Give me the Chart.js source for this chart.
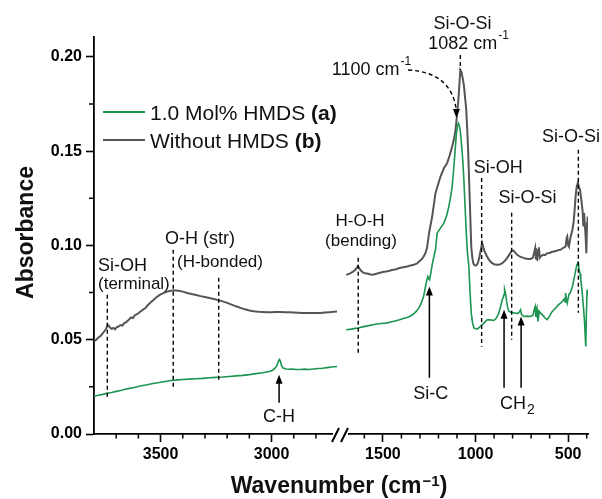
<!DOCTYPE html>
<html><head><meta charset="utf-8">
<script src="https://cdn.jsdelivr.net/npm/chart.js@4.4.0/dist/chart.umd.min.js"></script>
<style>html,body{margin:0;padding:0;background:#fff}</style>
</head><body>
<canvas id="c" width="602" height="499"></canvas>
<script>
// ---------- data ----------
const seriesNames = ['1.0 Mol% HMDS', 'Without HMDS'];
const seriesTags = ['(a)', '(b)'];
const xLTicks = [3500, 3000];
const xRTicks = [1500, 1000, 500];
const yTicks = [0, 0.05, 0.10, 0.15, 0.20];
const xLMinor = [3700, 3600, 3400, 3300, 3200, 3100, 2900, 2800];
const xRMinor = [1600, 1400, 1300, 1200, 1100, 900, 800, 700, 600, 400];
const yMinor = [0.025, 0.075, 0.125, 0.175];

// (a) 1.0 Mol% HMDS, high-wavenumber part
const aLeftWn = [3800,3780,3760,3740,3720,3700,3680,3660,3640,3620,3600,3580,3560,3540,3520,3500,3480,3460,3440,3420,3400,3370,3340,3310,3280,3250,3220,3190,3160,3130,3100,3070,3040,3010,2995,2985,2975,2968,2964,2960,2955,2948,2935,2920,2905,2890,2870,2850,2830,2810,2790,2770,2750,2730,2705];
const aLeftAbs = [0.0200,0.0205,0.0210,0.0216,0.0220,0.0226,0.0231,0.0237,0.0242,0.0247,0.0252,0.0257,0.0261,0.0266,0.0270,0.0274,0.0278,0.0282,0.0285,0.0287,0.0289,0.0291,0.0293,0.0295,0.0298,0.0300,0.0302,0.0305,0.0308,0.0311,0.0315,0.0320,0.0325,0.0331,0.0338,0.0348,0.0365,0.0390,0.0395,0.0385,0.0362,0.0350,0.0345,0.0343,0.0345,0.0342,0.0342,0.0344,0.0342,0.0345,0.0347,0.0349,0.0352,0.0355,0.0358];
// (a) low-wavenumber part
const aRightWn = [1698,1670,1650,1635,1610,1590,1570,1554,1530,1510,1482,1460,1440,1410,1390,1370,1356,1340,1320,1305,1293,1280,1270,1262,1257,1252,1248,1240,1234,1225,1216,1207,1190,1171,1155,1144,1135,1126,1120,1114,1108,1103,1097,1092,1086,1081,1075,1069,1063,1058,1052,1045,1036,1030,1023,1016,1009,1000,991,980,970,964,950,937,920,901,888,874,865,856,850,846,843,838,832,826,820,805,790,784,770,762,757,752,739,720,703,690,683,678,674,668,663,656,649,635,625,613,600,590,577,565,553,541,530,522,516,514,510,505,496,488,477,468,459,452,447,442,436,432,425,418,412,408,405,402,398,395];
const aRightAbs = [0.0553,0.0556,0.0560,0.0562,0.0568,0.0572,0.0576,0.0579,0.0583,0.0586,0.0588,0.0594,0.0598,0.0606,0.0612,0.0618,0.0623,0.0632,0.0650,0.0670,0.0694,0.0730,0.0782,0.0820,0.0835,0.0822,0.0818,0.0860,0.0897,0.0940,0.0977,0.1065,0.1090,0.1118,0.1160,0.1206,0.1255,0.1312,0.1380,0.1454,0.1530,0.1595,0.1635,0.1648,0.1630,0.1595,0.1530,0.1454,0.1350,0.1242,0.1110,0.0977,0.0888,0.0760,0.0641,0.0590,0.0562,0.0558,0.0556,0.0565,0.0575,0.0579,0.0593,0.0606,0.0605,0.0602,0.0615,0.0641,0.0675,0.0712,0.0725,0.0740,0.0765,0.0745,0.0703,0.0670,0.0650,0.0645,0.0642,0.0641,0.0640,0.0650,0.0659,0.0635,0.0623,0.0625,0.0623,0.0630,0.0660,0.0676,0.0620,0.0660,0.0597,0.0650,0.0641,0.0628,0.0615,0.0606,0.0625,0.0645,0.0659,0.0670,0.0685,0.0694,0.0705,0.0715,0.0700,0.0747,0.0715,0.0694,0.0740,0.0750,0.0782,0.0825,0.0870,0.0900,0.0915,0.0880,0.0850,0.0818,0.0760,0.0676,0.0600,0.0520,0.0464,0.0620,0.0765,0.0740];

// (b) Without HMDS, high-wavenumber part
const bLeftWn = [3800,3790,3780,3770,3760,3750,3745,3740,3735,3728,3720,3712,3705,3698,3690,3680,3672,3664,3656,3648,3640,3632,3624,3616,3608,3600,3592,3584,3576,3568,3560,3552,3544,3536,3528,3520,3510,3500,3490,3480,3470,3460,3450,3440,3430,3420,3400,3380,3360,3340,3320,3300,3280,3260,3240,3220,3200,3180,3160,3140,3120,3100,3080,3060,3040,3020,3000,2980,2960,2940,2920,2900,2880,2860,2840,2820,2800,2780,2760,2740,2720,2705];
const bLeftAbs = [0.0490,0.0500,0.0512,0.0520,0.0535,0.0550,0.0560,0.0572,0.0576,0.0565,0.0558,0.0562,0.0555,0.0566,0.0570,0.0578,0.0575,0.0588,0.0592,0.0600,0.0610,0.0618,0.0615,0.0630,0.0634,0.0640,0.0648,0.0655,0.0662,0.0668,0.0680,0.0690,0.0698,0.0706,0.0716,0.0724,0.0732,0.0740,0.0746,0.0751,0.0755,0.0758,0.0760,0.0762,0.0761,0.0759,0.0755,0.0748,0.0742,0.0737,0.0731,0.0726,0.0721,0.0716,0.0710,0.0703,0.0695,0.0686,0.0677,0.0669,0.0661,0.0655,0.0651,0.0648,0.0647,0.0646,0.0646,0.0647,0.0647,0.0646,0.0645,0.0644,0.0643,0.0642,0.0641,0.0641,0.0641,0.0642,0.0644,0.0646,0.0648,0.0650];
// (b) low-wavenumber part
const bRightWn = [1698,1680,1665,1650,1640,1635,1628,1620,1608,1595,1580,1565,1554,1540,1525,1510,1495,1482,1465,1450,1430,1410,1390,1370,1350,1334,1315,1300,1290,1280,1270,1262,1250,1234,1216,1200,1189,1170,1153,1140,1126,1115,1108,1100,1092,1086,1082,1076,1070,1063,1055,1050,1045,1040,1031,1023,1018,1012,1005,996,988,980,972,964,958,951,940,928,915,900,885,870,856,840,828,815,805,796,786,775,760,745,730,715,703,690,683,678,674,667,662,658,653,649,635,625,613,600,590,577,565,555,541,530,522,514,508,505,500,496,488,477,470,465,460,454,447,443,436,429,422,418,414,411,406,402,398,395];
const bRightAbs = [0.0844,0.0850,0.0858,0.0870,0.0882,0.0890,0.0880,0.0868,0.0857,0.0852,0.0850,0.0846,0.0844,0.0848,0.0852,0.0856,0.0860,0.0862,0.0866,0.0870,0.0874,0.0880,0.0884,0.0888,0.0893,0.0897,0.0905,0.0918,0.0928,0.0941,0.0960,0.0986,0.1070,0.1153,0.1277,0.1330,0.1365,0.1410,0.1436,0.1475,0.1524,0.1570,0.1613,0.1690,0.1780,0.1870,0.1930,0.1920,0.1890,0.1850,0.1770,0.1720,0.1620,0.1507,0.1240,0.0994,0.0940,0.0905,0.0895,0.0894,0.0905,0.0935,0.0975,0.1012,0.0990,0.0968,0.0945,0.0924,0.0910,0.0900,0.0897,0.0898,0.0906,0.0920,0.0935,0.0955,0.0970,0.0973,0.0962,0.0950,0.0940,0.0935,0.0930,0.0928,0.0928,0.0935,0.0965,0.0986,0.0930,0.0924,0.0975,0.0990,0.0935,0.0941,0.0950,0.0948,0.0959,0.0960,0.0965,0.0968,0.0970,0.0975,0.0977,0.0985,0.0990,0.0994,0.1040,0.1047,0.1000,0.0994,0.1040,0.1083,0.1130,0.1189,0.1260,0.1312,0.1334,0.1310,0.1295,0.1242,0.1180,0.1100,0.1171,0.1171,0.1050,0.0959,0.1120,0.1153];

// ---------- annotations (anchored in data coordinates) ----------
const dashLines = [
  ['xL', 3740, 0.0738, 0.0182],
  ['xL', 3443, 0.0977, 0.0246],
  ['xL', 3238, 0.0829, 0.0277],
  ['xR', 1633, 0.0935, 0.0431],
  ['xR', 1082, 0.2010, 0.1931],
  ['xR', 967, 0.1358, 0.0462],
  ['xR', 805, 0.1173, 0.0500],
  ['xR', 445, 0.1507, 0.0643]
];
const arrows = [
  ['xL', 2966, 0.0166, 0.0314],
  ['xR', 1249, 0.0298, 0.0782],
  ['xR', 846, 0.0245, 0.0659],
  ['xR', 754, 0.0245, 0.0623]
];
const labels = [
  ['xL', 3782, 0.0897, 'Si-OH', 18, 'left'],
  ['xL', 3782, 0.0800, '(terminal)', 17, 'left'],
  ['xL', 3480, 0.1043, 'O-H (str)', 18, 'left'],
  ['xL', 3426, 0.0918, '(H-bonded)', 17, 'left'],
  ['xL', 2966, 0.0097, 'C-H', 18, 'center'],
  ['xR', 1623, 0.1133, 'H-O-H', 17, 'center'],
  ['xR', 1618, 0.1029, '(bending)', 17, 'center'],
  ['xR', 1242, 0.0220, 'Si-C', 18, 'center'],
  ['xR', 1070, 0.2179, 'Si-O-Si', 18, 'center'],
  ['xR', 877, 0.1419, 'Si-OH', 18, 'center'],
  ['xR', 720, 0.1259, 'Si-O-Si', 18, 'center'],
  ['xR', 485, 0.1583, 'Si-O-Si', 18, 'center']
];
const supLabels = [
  ['xR', 1255, 0.2073, '1082 cm', '-1', -10],
  ['xR', 1776, 0.1940, '1100 cm', '-1', -10],
  ['xR', 868, 0.0166, 'CH', '2', 5]
];
const curveArrow = {axis: 'xR', start: [1364, 0.1930], ctrl: [1127, 0.1919], end: [1103, 0.1712], tip: [1103, 0.1675]};

const GREEN = '#1b9550';
const GRAY = '#555555';
const FONT = "'Liberation Sans', Arial, sans-serif";

const pts = (xs, ys) => xs.map((x, i) => ({x: x, y: ys[i]}));

function xAxis(ticksArr, min, max) {
  return {
    type: 'linear', position: 'bottom', stack: 'wn', stackWeight: 1,
    reverse: true, min: min, max: max,
    afterBuildTicks: s => { s.ticks = ticksArr.map(v => ({value: v})); },
    afterFit: s => { s.height = 30; },
    border: {display: true, color: '#000', width: 1.8},
    grid: {display: true, drawOnChartArea: false, drawTicks: true, tickLength: 8, tickWidth: 1.6, tickColor: '#000'},
    ticks: {color: '#000', font: {family: FONT, size: 16, weight: 'bold'}, padding: 3, maxRotation: 0, autoSkip: false, callback: v => String(v)}
  };
}

const annot = {
  id: 'annot',
  afterDatasetsDraw(ch) {
    const ctx = ch.ctx, ca = ch.chartArea;
    const X = (ax, v) => ch.scales[ax].getPixelForValue(v);
    const Y = v => ch.scales.y.getPixelForValue(v);
    ctx.save();
    ctx.strokeStyle = '#000'; ctx.fillStyle = '#000';
    // minor ticks
    ctx.lineWidth = 1.5;
    ctx.beginPath();
    xLMinor.forEach(v => { const x = X('xL', v); ctx.moveTo(x, ca.bottom); ctx.lineTo(x, ca.bottom + 4.5); });
    xRMinor.forEach(v => { const x = X('xR', v); ctx.moveTo(x, ca.bottom); ctx.lineTo(x, ca.bottom + 4.5); });
    yMinor.forEach(v => { const y = Y(v); ctx.moveTo(ca.left - 5, y); ctx.lineTo(ca.left, y); });
    ctx.stroke();
    // axis break
    const bx = ch.scales.xR.left;
    ctx.fillStyle = '#fff';
    ctx.fillRect(bx - 8, ca.bottom - 4, 15, 8);
    ctx.fillStyle = '#000';
    ctx.lineWidth = 2;
    ctx.beginPath();
    ctx.moveTo(bx - 9, ca.bottom + 8); ctx.lineTo(bx - 2, ca.bottom - 6);
    ctx.moveTo(bx, ca.bottom + 8); ctx.lineTo(bx + 7, ca.bottom - 6);
    ctx.stroke();
    // dashed markers
    ctx.lineWidth = 1.4; ctx.setLineDash([4, 3]);
    ctx.beginPath();
    dashLines.forEach(d => { const x = X(d[0], d[1]); ctx.moveTo(x, Y(d[2])); ctx.lineTo(x, Y(d[3])); });
    ctx.stroke();
    // curved dashed arrow
    const c = curveArrow;
    ctx.beginPath();
    ctx.moveTo(X(c.axis, c.start[0]), Y(c.start[1]));
    ctx.quadraticCurveTo(X(c.axis, c.ctrl[0]), Y(c.ctrl[1]), X(c.axis, c.end[0]), Y(c.end[1]));
    ctx.stroke();
    ctx.setLineDash([]);
    const head = (x, y, dir) => { // dir: -1 points up, +1 points down
      ctx.beginPath();
      ctx.moveTo(x, y); ctx.lineTo(x - 3.5, y - dir * 9); ctx.lineTo(x + 3.5, y - dir * 9); ctx.closePath(); ctx.fill();
    };
    head(X(c.axis, c.tip[0]), Y(c.tip[1]), 1);
    // solid arrows
    ctx.lineWidth = 1.5;
    arrows.forEach(a => {
      const x = X(a[0], a[1]), y0 = Y(a[2]), y1 = Y(a[3]);
      ctx.beginPath(); ctx.moveTo(x, y0); ctx.lineTo(x, y1 + 6); ctx.stroke();
      head(x, y1, -1);
    });
    // labels
    ctx.fillStyle = '#111';
    ctx.textBaseline = 'alphabetic';
    labels.forEach(l => {
      ctx.font = l[4] + 'px ' + FONT; ctx.textAlign = l[5];
      ctx.fillText(l[3], X(l[0], l[1]), Y(l[2]) + 0.358 * l[4]);
    });
    ctx.textAlign = 'left';
    supLabels.forEach(s => {
      const x = X(s[0], s[1]), yb = Y(s[2]) + 0.358 * 18;
      ctx.font = '18px ' + FONT; ctx.fillText(s[3], x, yb);
      const w = ctx.measureText(s[3]).width;
      ctx.font = (s[5] > 0 ? 14 : 12) + 'px ' + FONT; ctx.fillText(s[4], x + w + 1, yb + s[5]);
    });
    // legend
    const lx = ca.left + 9, ly = [ca.top + 75, ca.top + 103];
    [GREEN, GRAY].forEach((col, i) => {
      ctx.strokeStyle = col; ctx.lineWidth = i ? 2.2 : 2;
      ctx.beginPath(); ctx.moveTo(lx, ly[i]); ctx.lineTo(lx + 42, ly[i]); ctx.stroke();
      ctx.fillStyle = '#111';
      ctx.font = '21px ' + FONT;
      const base = ly[i] + 0.358 * 21;
      const t = seriesNames[i] + ' ';
      ctx.fillText(t, lx + 47, base);
      const w = ctx.measureText(t).width;
      ctx.font = 'bold 21px ' + FONT;
      ctx.fillText(seriesTags[i], lx + 47 + w, base);
    });
    // axis titles
    ctx.fillStyle = '#111';
    ctx.font = 'bold 23px ' + FONT;
    const p1 = 'Wavenumber (cm', p3 = ')';
    const w1 = ctx.measureText(p1).width, w3 = ctx.measureText(p3).width;
    ctx.font = 'bold 15px ' + FONT;
    const p2 = '\u22121', w2 = ctx.measureText(p2).width;
    const tw = w1 + w2 + w3 + 1;
    const tx = (ca.left + ca.right) / 2 - 2 - tw / 2, tb = 493;
    ctx.font = 'bold 23px ' + FONT; ctx.fillText(p1, tx, tb);
    ctx.font = 'bold 15px ' + FONT; ctx.fillText(p2, tx + w1 + 1, tb - 7);
    ctx.font = 'bold 23px ' + FONT; ctx.fillText(p3, tx + w1 + w2 + 1, tb);
    ctx.save();
    ctx.translate(32.5, (ca.top + ca.bottom) / 2 - 3);
    ctx.rotate(-Math.PI / 2);
    ctx.textAlign = 'center';
    ctx.fillText('Absorbance', 0, 0);
    ctx.restore();
    ctx.restore();
  }
};

new Chart(document.getElementById('c'), {
  type: 'line',
  data: {
    datasets: [
      {label: seriesNames[0], data: pts(aLeftWn, aLeftAbs), xAxisID: 'xL', yAxisID: 'y', borderColor: GREEN, borderWidth: 1.6},
      {label: seriesNames[0], data: pts(aRightWn, aRightAbs), xAxisID: 'xR', yAxisID: 'y', borderColor: GREEN, borderWidth: 1.6},
      {label: seriesNames[1], data: pts(bLeftWn, bLeftAbs), xAxisID: 'xL', yAxisID: 'y', borderColor: GRAY, borderWidth: 2},
      {label: seriesNames[1], data: pts(bRightWn, bRightAbs), xAxisID: 'xR', yAxisID: 'y', borderColor: GRAY, borderWidth: 2}
    ]
  },
  options: {
    responsive: false, animation: false,
    elements: {point: {radius: 0}, line: {tension: 0, fill: false}},
    layout: {padding: {left: 34, top: 37, right: 14, bottom: 35}},
    plugins: {legend: {display: false}, tooltip: {enabled: false}, title: {display: false}},
    scales: {
      xL: xAxis(xLTicks, 2687, 3800),
      xR: xAxis(xRTicks, 393, 1726),
      y: {
        type: 'linear', position: 'left', min: 0, max: 0.2105,
        afterBuildTicks: s => { s.ticks = yTicks.map(v => ({value: v})); },
        afterFit: s => { s.width = 60; },
        border: {display: true, color: '#000', width: 1.8},
        grid: {display: true, drawOnChartArea: false, drawTicks: true, tickLength: 8, tickWidth: 1.6, tickColor: '#000'},
        ticks: {color: '#000', font: {family: FONT, size: 16, weight: 'bold'}, padding: 4, callback: v => v.toFixed(2)}
      }
    }
  },
  plugins: [annot]
});
</script>
</body></html>
